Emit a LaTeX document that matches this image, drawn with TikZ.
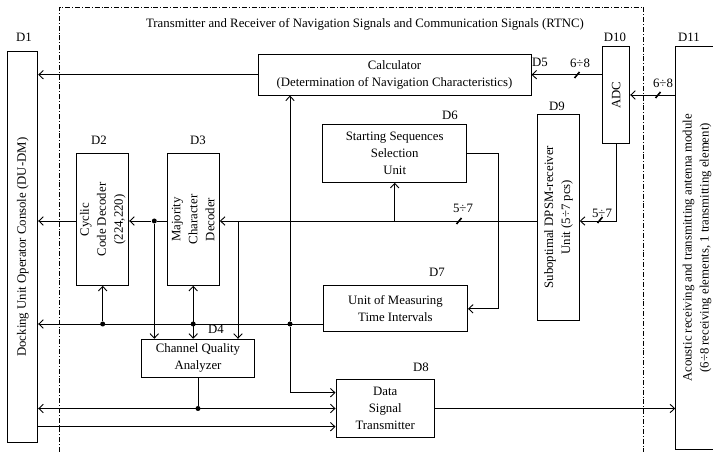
\documentclass[tikz,border=0pt]{standalone}
\usepackage{fontspec}
\setmainfont{Liberation Serif}
\usetikzlibrary{arrows.meta}
\begin{document}
\begin{tikzpicture}[x=1pt,y=-1pt,line width=0.9pt,
  every node/.style={font=\fontsize{12.8}{17}\selectfont, inner sep=0pt},
  blk/.style={draw, line width=1pt, align=center},
  vblk/.style={blk, rotate=90},
  arr/.style={-{Straight Barb[length=4.5pt,width=8.5pt]}},
  darr/.style={{Straight Barb[length=4.5pt,width=8.5pt]}-{Straight Barb[length=4.5pt,width=8.5pt]}},
  dot/.style={circle, fill, minimum size=5pt, inner sep=0pt},
  busmark/.style={line width=1.6pt}]
\useasboundingbox (0,0) rectangle (713,454);
% frame
\draw[line width=0.7pt, dash pattern=on 5pt off 2pt on 0.8pt off 2pt] (59.5,452) -- (59.5,7) -- (643,7) -- (643,452);
\node (title) at (365,24) {Transmitter and Receiver of Navigation Signals and Communication Signals (RTNC)};
% blocks
\node[vblk, minimum width=391pt, minimum height=30pt] (D1) at (22.7,247.2) {Docking Unit Operator Console (DU-DM)};
\node[vblk, minimum width=131.6pt, minimum height=52pt] (D2) at (102.7,219.5) {Cyclic\\Code Decoder\\(224,220)};
\node[vblk, minimum width=131.6pt, minimum height=52.3pt] (D3) at (193.2,219.5) {Majority\\Character\\Decoder};
\node[blk, minimum width=112.6pt, minimum height=38pt] (D4) at (198,358.3) {Channel Quality\\Analyzer};
\node[blk, minimum width=273pt, minimum height=40.7pt] (D5) at (394.5,74.7) {Calculator\\(Determination of Navigation Characteristics)};
\node[blk, minimum width=144pt, minimum height=58pt] (D6) at (394.7,153.3) {Starting Sequences\\Selection\\Unit};
\node[blk, minimum width=144.2pt, minimum height=46.3pt] (D7) at (395.4,308.8) {Unit of Measuring\\Time Intervals};
\node[blk, minimum width=98.3pt, minimum height=58.4pt] (D8) at (385.2,408.5) {Data\\Signal\\Transmitter};
\node[vblk, minimum width=205.7pt, minimum height=41.6pt] (D9) at (558.5,217.2) {Suboptimal DPSM-receiver\\Unit (5÷7 pcs)};
\node[vblk, minimum width=96.6pt, minimum height=27pt] (D10) at (616.2,95) {ADC};
\node[vblk, minimum width=402.3pt, minimum height=42.6pt] (D11) at (697,247.9) {Acoustic receiving and transmitting antenna module\\(6÷8 receiving elements, 1 transmitting element)};
% labels
\node (L1) at (24,37) {D1};
\node (L2) at (99,140) {D2};
\node (L3) at (198,140) {D3};
\node (L4) at (216,329) {D4};
\node (L5) at (540,62) {D5};
\node (L6) at (450,115) {D6};
\node (L7) at (437,272) {D7};
\node (L8) at (421,367) {D8};
\node (L9) at (557,106) {D9};
\node (L10) at (615,37) {D10};
\node (L11) at (689,37) {D11};
% helper coordinates
\coordinate (ybus) at (0,221);
\coordinate (ylow) at (0,324);
\coordinate (y8a) at (0,392.7);
\coordinate (y8c) at (0,426.7);
\coordinate (b238) at (238,221);
% junction dots
\node[dot] (j1) at (154.3,221) {};
\node[dot] (j2) at (D2.west |- ylow) {};
\node[dot] (j3) at (D3.west |- ylow) {};
\node[dot] (j4) at (290,324) {};
\node[dot] (j5) at (D4.south |- D8.west) {};
% connectors
\draw[arr] (D5.west) -- (D5.west -| D1.south);
\draw[arr] (D5.east -| D10.north) -- (D5.east);
\draw[arr] (D10.south -| D11.north) -- (D10.south);
\draw[arr] (D10.west) |- (D9.south |- ybus);
\draw[arr] (D9.north |- ybus) -- (D3.south |- ybus);
\draw (D3.north |- ybus) -- (j1);
\draw[arr] (j1) -- (D2.south |- ybus);
\draw[arr] (j1) -- (j1 |- D4.north);
\draw[arr] (D2.north |- ybus) -- (D1.south |- ybus);
\draw[arr] (b238) -- (b238 |- D4.north);
\draw[arr] (D6.south |- ybus) -- (D6.south);
\draw[arr] (D6.east) -- ++(31.6,0) |- (D7.east);
\draw[arr] (D7.west |- ylow) -- (D1.south |- ylow);
\draw[arr] (j2) -- (D2.west);
\draw[darr] (D3.west) -- (D3.west |- D4.north);
\draw[arr] (j4) -- (j4 |- D5.south);
\draw[arr] (j4) |- (D8.west |- y8a);
\draw (D4.south) -- (j5);
\draw[darr] (D1.south |- j5) -- (D8.west |- j5);
\draw[arr] (D1.south |- y8c) -- (D8.west |- y8c);
\draw[arr] (D8.east) -- (D8.east -| D11.north);
% bus marks
\draw[busmark] (577,75) +(-2.5,3) -- +(2.5,-3);
\draw[busmark] (658,95) +(-2.5,3) -- +(2.5,-3);
\draw[busmark] (459,221) +(-2.5,3) -- +(2.5,-3);
\draw[busmark] (600,220) +(-2.5,3) -- +(2.5,-3);
\node (n1) at (580,63) {6÷8};
\node (n2) at (663,83) {6÷8};
\node (n3) at (463,208) {5÷7};
\node (n4) at (602,213) {5÷7};
\end{tikzpicture}
\end{document}
